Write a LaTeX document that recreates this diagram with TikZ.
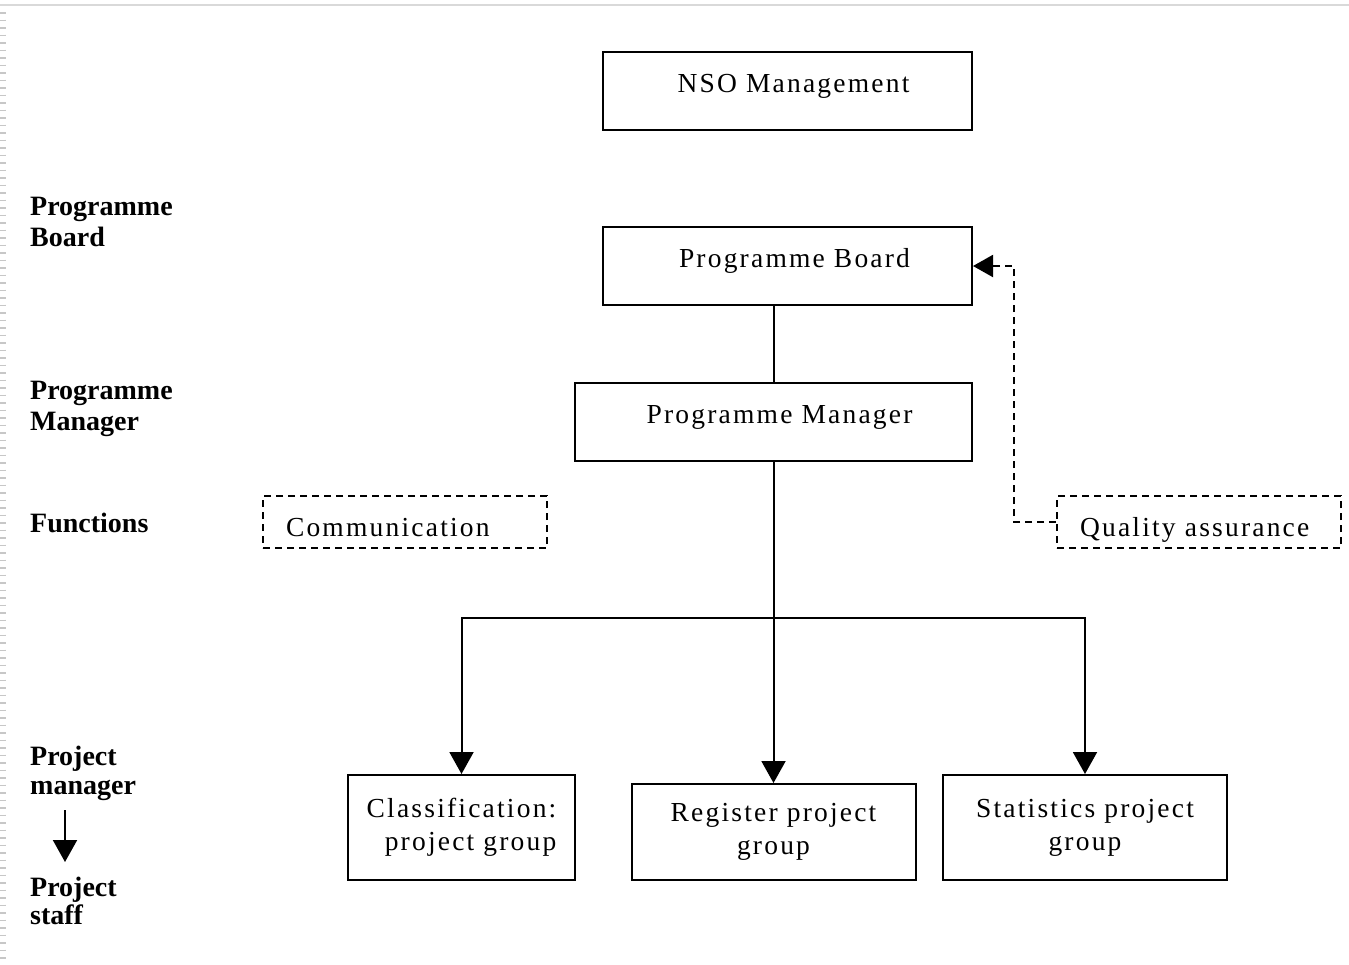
\documentclass[tikz,border=0pt]{standalone}
\usepackage{fontspec}
\setmainfont{Liberation Serif}
\newfontfamily\boxfont[LetterSpace=8]{Liberation Serif}
\usetikzlibrary{arrows.meta}
\tikzset{
  orgbox/.style={draw, line width=2pt, inner sep=0pt, font=\boxfont\fontsize{27.5}{33}\selectfont},
  onebox/.style={orgbox, text height=20pt, text depth=18pt},
  fnbox/.style={orgbox, dash pattern=on 7pt off 5pt, inner xsep=23pt, text width=238pt, align=left, text height=28pt, text depth=0pt, minimum height=52pt},
  sidelabel/.style={anchor=north west, inner sep=0pt, align=left, font=\bfseries\fontsize{28}{31}\selectfont},
  conn/.style={line width=2pt},
  arr/.style={conn, -{Triangle[width=24pt,length=22pt]}},
  darr/.style={conn, dash pattern=on 7pt off 5pt, -{Triangle[width=22pt,length=20pt]}}
}
\begin{document}
\begin{tikzpicture}[x=1pt,y=-1pt]
\useasboundingbox (0,0) rectangle (1349,964);
\fill[white] (0,0) rectangle (1349,964);
% page frame remnants
\draw[line width=2pt, black!15] (0,5) -- (1349,5);
\draw[line width=6pt, black!22, dash pattern=on 1.5pt off 6pt] (3,12) -- (3,964);

% boxes
\node[onebox, minimum width=369pt, minimum height=78pt] (nso) at (787.5,91) {\hspace*{12pt}NSO Management};
\node[onebox, minimum width=369pt, minimum height=78pt] (pb) at (787.5,266) {\hspace*{14pt}Programme Board};
\node[onebox, minimum width=397pt, minimum height=78pt] (pm) at (773.5,422) {\hspace*{12pt}Programme Manager};
\node[fnbox] (comm) at (405,522) {Communication};
\node[fnbox] (qa) at (1199,522) {Quality assurance};
\node[orgbox, align=right, minimum width=227pt, minimum height=105pt] (cls) at (461.5,827.5) {Classification:\\project group};
\node[orgbox, align=center, minimum width=284pt, minimum height=96pt] (reg) at (773.5,832) {Register project\\group};
\node[orgbox, align=center, minimum width=284pt, minimum height=105pt] (stat) at (1085,827.5) {Statistics project\\group};

% side labels
\node[sidelabel] (lpb) at (30,197) {Programme\\Board};
\node[sidelabel] (lpm) at (30,381) {Programme\\Manager};
\node[sidelabel] (lfn) at (30,513) {Functions};
\node[sidelabel, font=\bfseries\fontsize{28}{29}\selectfont] (lprm) at (30,746) {Project\\manager};
\node[sidelabel, font=\bfseries\fontsize{28}{28}\selectfont] (lps) at (30,877) {Project\\staff};
\coordinate (la1) at (65,810);
\coordinate (la2) at (65,862);
\draw[arr] (la1) -- (la2);

% connectors
\draw[conn] (pm.north |- pb.south) -- (pm.north);
\coordinate (j) at (773.5,618);
\draw[conn] (pm.south) -- (j);
\draw[arr] (j) -| (cls.north);
\draw[arr] (j) -- (reg.north);
\draw[arr] (j) -| (stat.north);
\coordinate (qturn) at (1014,522);
\draw[darr] (qa.west) -- (qturn) |- (pb.east);
\end{tikzpicture}
\end{document}
